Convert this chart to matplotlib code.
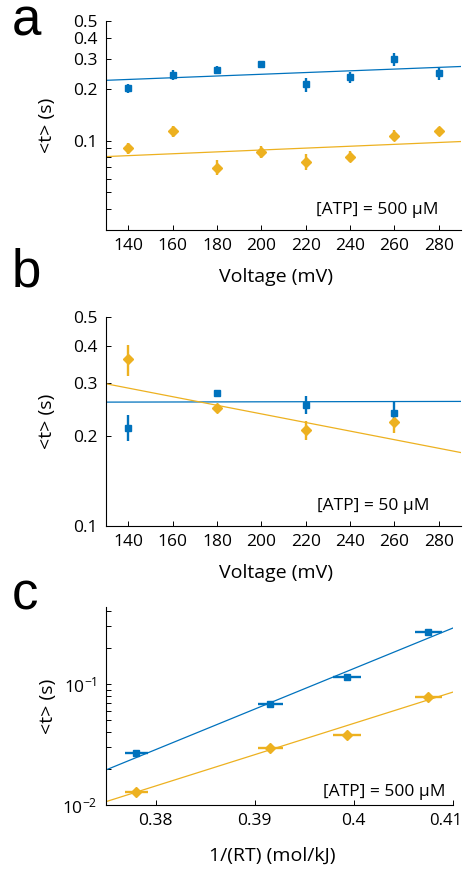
import numpy as np
import matplotlib
matplotlib.use("Agg")
import matplotlib.pyplot as plt
import matplotlib.transforms as mtransforms
from matplotlib.ticker import FixedLocator, NullFormatter, NullLocator

plt.rcParams['font.family'] = ['Open Sans', 'DejaVu Sans']
plt.rcParams['mathtext.fontset'] = 'custom'
plt.rcParams['mathtext.rm'] = 'Open Sans'
plt.rcParams['mathtext.it'] = 'Open Sans'

BLUE = '#0072BD'
YEL = '#EDB120'

# panel a, [ATP] = 500 uM
volt_a = [140, 160, 180, 200, 220, 240, 260, 280]
blue_a = [0.202, 0.243, 0.258, 0.281, 0.213, 0.234, 0.298, 0.247]
blue_a_err = [0.013, 0.016, 0.014, 0.012, 0.020, 0.017, 0.025, 0.020]
yel_a = [0.090, 0.113, 0.0695, 0.086, 0.075, 0.0806, 0.107, 0.113]
yel_a_err = [0.007, 0.008, 0.007, 0.007, 0.008, 0.006, 0.008, 0.007]
fit_a_x = [130, 290]
fit_a_blue = [0.225, 0.271]
fit_a_yel = [0.0806, 0.0987]

# panel b, [ATP] = 50 uM
volt_b = [140, 180, 220, 260]
blue_b = [0.2135, 0.278, 0.254, 0.2396]
blue_b_err = [0.021, 0.007, 0.018, 0.021]
yel_b = [0.3606, 0.249, 0.2092, 0.223]
yel_b_err = [0.043, 0.006, 0.016, 0.019]
fit_b_x = [130, 290]
fit_b_blue = [0.2596, 0.261]
fit_b_yel = [0.299, 0.176]

# panel c, Arrhenius
inv_rt_blue = [0.37805, 0.39159, 0.39933, 0.4075]
inv_rt_yel = [0.37805, 0.39159, 0.39933, 0.4075]
inv_rt_err = [0.00118, 0.00126, 0.00143, 0.00138]
blue_c = [0.0271, 0.0687, 0.1135, 0.271]
yel_c = [0.01282, 0.0295, 0.0378, 0.078]
fit_c_x = [0.375, 0.41]
fit_c_blue = [0.0195, 0.291]
fit_c_yel = [0.01066, 0.0859]

W, H = 465, 869
fig = plt.figure(figsize=(W / 100, H / 100), dpi=100)


def make_ax(left, right, top, bottom):
    return fig.add_axes([left / W, 1 - bottom / H, (right - left) / W, (bottom - top) / H])


def style(ax):
    ax.spines['top'].set_visible(False)
    ax.spines['right'].set_visible(False)
    ax.spines['left'].set_linewidth(0.8)
    ax.spines['bottom'].set_linewidth(0.8)
    ax.tick_params(direction='in', length=3.5, width=0.7, labelsize=12.5, pad=6)
    ax.tick_params(which='minor', direction='in', length=3.5, width=0.7)


def points(ax, x, y, yerr=None, xerr=None, color=BLUE, marker='s', ms=5):
    ax.errorbar(x, y, yerr=yerr, xerr=xerr, fmt=marker, color=color, ms=ms,
                elinewidth=1.7, capsize=0, mec=color, mfc=color)


axa = make_ax(106, 461, 21, 230)
axb = make_ax(106, 461, 317, 526)
axc = make_ax(106, 453, 607, 805)

# a
axa.plot(fit_a_x, fit_a_blue, color=BLUE, lw=0.9)
axa.plot(fit_a_x, fit_a_yel, color=YEL, lw=0.9)
points(axa, volt_a, blue_a, yerr=blue_a_err, color=BLUE, marker='s')
points(axa, volt_a, yel_a, yerr=yel_a_err, color=YEL, marker='D', ms=4.8)
axa.set_yscale('log')
axa.set_ylim(0.03, 0.5)
axa.set_xlim(130, 290)
axa.yaxis.set_major_locator(FixedLocator([0.1, 0.2, 0.3, 0.4, 0.5]))
axa.yaxis.set_major_formatter(plt.FixedFormatter(['0.1', '0.2', '0.3', '0.4', '0.5']))
axa.yaxis.set_minor_locator(FixedLocator([0.04, 0.05, 0.06, 0.07, 0.08, 0.09]))
axa.yaxis.set_minor_formatter(NullFormatter())
axa.set_xticks(volt_a)
axa.text(280, 0.0395, '[ATP] = 500 µM', ha='right', va='center', fontsize=12.5)

# b
axb.plot(fit_b_x, fit_b_blue, color=BLUE, lw=0.9)
axb.plot(fit_b_x, fit_b_yel, color=YEL, lw=0.9)
points(axb, volt_b, yel_b, yerr=yel_b_err, color=YEL, marker='D', ms=4.8)
points(axb, volt_b, blue_b, yerr=blue_b_err, color=BLUE, marker='s')
axb.set_yscale('log')
axb.set_ylim(0.1, 0.5)
axb.set_xlim(130, 290)
axb.yaxis.set_major_locator(FixedLocator([0.1, 0.2, 0.3, 0.4, 0.5]))
axb.yaxis.set_major_formatter(plt.FixedFormatter(['0.1', '0.2', '0.3', '0.4', '0.5']))
axb.yaxis.set_minor_locator(NullLocator())
axb.set_xticks(volt_a)
axb.text(276, 0.117, '[ATP] = 50 µM', ha='right', va='center', fontsize=12.5)

# c
axc.plot(fit_c_x, fit_c_blue, color=BLUE, lw=0.9)
axc.plot(fit_c_x, fit_c_yel, color=YEL, lw=0.9)
points(axc, inv_rt_blue, blue_c, xerr=inv_rt_err, color=BLUE, marker='s')
points(axc, inv_rt_yel, yel_c, xerr=inv_rt_err, color=YEL, marker='D', ms=4.8)
axc.set_yscale('log')
axc.set_ylim(0.01, 0.434)
axc.set_xlim(0.375, 0.41)
axc.yaxis.set_major_locator(FixedLocator([0.01, 0.1]))
axc.yaxis.set_major_formatter(plt.FixedFormatter([r'$10^{-2}$', r'$10^{-1}$']))
axc.yaxis.set_minor_locator(FixedLocator([0.02, 0.03, 0.04, 0.05, 0.06, 0.07, 0.08, 0.09,
                                          0.2, 0.3, 0.4]))
axc.yaxis.set_minor_formatter(NullFormatter())
axc.set_xticks([0.38, 0.39, 0.40, 0.41])
axc.set_xticklabels(['0.38', '0.39', '0.4', '0.41'])
axc.text(0.4092, 0.0128, '[ATP] = 500 µM', ha='right', va='center', fontsize=12.5)

for ax, xl in [(axa, 'Voltage (mV)'), (axb, 'Voltage (mV)'), (axc, '1/(RT) (mol/kJ)')]:
    style(ax)
    ax.set_ylabel('<t> (s)', fontsize=14)
    ax.yaxis.set_label_coords(-0.14, 0.5)
    ax.set_xlabel(xl, fontsize=14)
axa.xaxis.set_label_coords(0.48, -0.18)
axb.xaxis.set_label_coords(0.48, -0.18)
axc.xaxis.set_label_coords(0.48, -0.21)

# keep the last tick label inside the canvas
last = axc.get_xticklabels()[-1]
last.set_fontsize(12)
last.set_transform(last.get_transform() + mtransforms.ScaledTranslation(-5 / 72, 0, fig.dpi_scale_trans))

for lab, yb in [('a', 35), ('b', 287), ('c', 610)]:
    fig.text(12 / W, 1 - yb / H, lab, fontsize=38, family='Liberation Sans', va='baseline')

fig.savefig('out.png', dpi=100)
